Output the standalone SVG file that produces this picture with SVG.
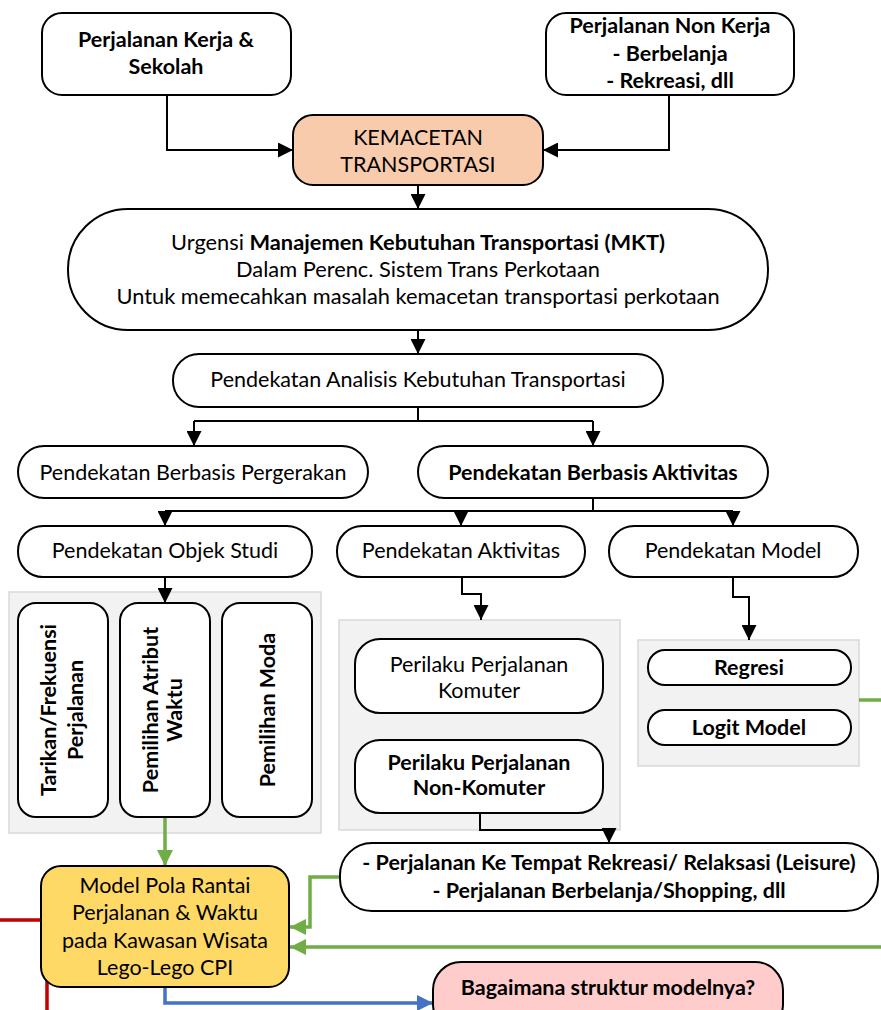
<svg xmlns="http://www.w3.org/2000/svg" width="881" height="1010" viewBox="0 0 881 1010">
<defs>
<style>
.n{fill:#fff;stroke:#000;stroke-width:2}
.t{font-family:Lato,"Liberation Sans",sans-serif;font-size:21.5px;fill:#000;text-anchor:middle}
.b{font-weight:bold}
.c{fill:none;stroke:#000;stroke-width:2}
.g{fill:none;stroke:#70AD47;stroke-width:3.5}
.bl{fill:none;stroke:#4472C4;stroke-width:3.5}
.r{fill:none;stroke:#C00000;stroke-width:3.5}
.p{fill:#F2F2F2;stroke:#D9D9D9;stroke-width:1.5}
</style>
<marker id="ak" markerUnits="userSpaceOnUse" markerWidth="15" markerHeight="15" viewBox="0 0 15 15" refX="15" refY="7.5" orient="auto"><path d="M0,0 L15,7.5 L0,15 z" fill="#000"/></marker>
<marker id="ag" markerUnits="userSpaceOnUse" markerWidth="16" markerHeight="16" viewBox="0 0 16 16" refX="16" refY="8" orient="auto"><path d="M0,0 L16,8 L0,16 z" fill="#70AD47"/></marker>
<marker id="ab" markerUnits="userSpaceOnUse" markerWidth="16" markerHeight="16" viewBox="0 0 16 16" refX="16" refY="8" orient="auto"><path d="M0,0 L16,8 L0,16 z" fill="#4472C4"/></marker>
</defs>
<rect width="881" height="1010" fill="#fff"/>

<g id="panels">
<rect class="p" x="9" y="592" width="312" height="241"/>
<rect class="p" x="339" y="620" width="281" height="210"/>
<rect class="p" x="638" y="640" width="221" height="126"/>
</g>

<g id="connectors">
<path class="c" d="M167,95 V150 H293" marker-end="url(#ak)"/>
<path class="c" d="M669,95 V150 H543" marker-end="url(#ak)"/>
<path class="c" d="M418,185 V209" marker-end="url(#ak)"/>
<path class="c" d="M418,330 V354" marker-end="url(#ak)"/>
<path class="c" d="M418,407 V421 M194,421 H593"/>
<path class="c" d="M194,421 V446" marker-end="url(#ak)"/>
<path class="c" d="M593,421 V446" marker-end="url(#ak)"/>
<path class="c" d="M593,498 V511 M165,511 H733"/>
<path class="c" d="M165,511 V526" marker-end="url(#ak)"/>
<path class="c" d="M461,511 V526" marker-end="url(#ak)"/>
<path class="c" d="M733,511 V526" marker-end="url(#ak)"/>
<path class="c" d="M165,577 V603" marker-end="url(#ak)"/>
<path class="c" d="M462,577 V594 H481 V620" marker-end="url(#ak)"/>
<path class="c" d="M733,577 V597 H749 V640" marker-end="url(#ak)"/>
<path class="c" d="M480,813 V830 H609 V843" marker-end="url(#ak)"/>
<path class="g" d="M165,817 V866" marker-end="url(#ag)"/>
<path class="g" d="M340,877 H310 V927 H290" marker-end="url(#ag)"/>
<path class="g" d="M859,700 H897 V947 H290" marker-end="url(#ag)"/>
<path class="bl" d="M165,987 V1003 H433" marker-end="url(#ab)"/>
<path class="r" d="M-3,920 H47 V1015"/>
</g>

<g id="n1"><rect class="n" x="42" y="13" width="249" height="82" rx="20"/>
<text class="t b" x="166" y="47">Perjalanan Kerja &amp;</text>
<text class="t b" x="166" y="74">Sekolah</text></g>

<g id="n2"><rect class="n" x="546" y="13" width="248" height="82" rx="20"/>
<text class="t b" x="670" y="33">Perjalanan Non Kerja</text>
<text class="t b" x="670" y="61">- Berbelanja</text>
<text class="t b" x="670" y="88">- Rekreasi, dll</text></g>

<g id="n3"><rect class="n" x="293" y="115" width="250" height="70" rx="20" style="fill:#F8CBAD"/>
<text class="t" x="418" y="145">KEMACETAN</text>
<text class="t" x="418" y="172">TRANSPORTASI</text></g>

<g id="n4"><rect class="n" x="68" y="209" width="700" height="121" rx="60"/>
<text class="t" x="418" y="250" style="font-size:21.8px">Urgensi <tspan class="b">Manajemen Kebutuhan Transportasi (MKT)</tspan></text>
<text class="t" x="418" y="277" style="font-size:21.8px">Dalam Perenc. Sistem Trans Perkotaan</text>
<text class="t" x="418" y="304" style="font-size:21.8px">Untuk memecahkan masalah kemacetan transportasi perkotaan</text></g>

<g id="n5"><rect class="n" x="173" y="354" width="490" height="53" rx="26"/>
<text class="t" x="418" y="387">Pendekatan Analisis Kebutuhan Transportasi</text></g>

<g id="n6"><rect class="n" x="18" y="446" width="350" height="52" rx="26"/>
<text class="t" x="193" y="480">Pendekatan Berbasis Pergerakan</text></g>

<g id="n7"><rect class="n" x="418" y="446" width="350" height="52" rx="26"/>
<text class="t b" x="593" y="480">Pendekatan Berbasis Aktivitas</text></g>

<g id="n8"><rect class="n" x="18" y="526" width="294" height="51" rx="25"/>
<text class="t" x="165" y="558">Pendekatan Objek Studi</text></g>

<g id="n9"><rect class="n" x="337" y="526" width="248" height="51" rx="25"/>
<text class="t" x="461" y="558">Pendekatan Aktivitas</text></g>

<g id="n10"><rect class="n" x="609" y="526" width="249" height="51" rx="25"/>
<text class="t" x="733" y="558">Pendekatan Model</text></g>

<g id="n11"><rect class="n" x="18" y="603" width="90" height="214" rx="18"/>
<g transform="translate(63,710) rotate(-90)">
<text class="t b" x="0" y="-7">Tarikan/Frekuensi</text>
<text class="t b" x="0" y="20">Perjalanan</text></g></g>

<g id="n12"><rect class="n" x="120" y="603" width="90" height="214" rx="18"/>
<g transform="translate(165,710) rotate(-90)">
<text class="t b" x="0" y="-7">Pemilihan Atribut</text>
<text class="t b" x="0" y="17">Waktu</text></g></g>

<g id="n13"><rect class="n" x="222" y="603" width="90" height="214" rx="18"/>
<g transform="translate(267,710) rotate(-90)">
<text class="t b" x="0" y="8">Pemilihan Moda</text></g></g>

<g id="n14"><rect class="n" x="355" y="639" width="248" height="74" rx="25"/>
<text class="t" x="479" y="672">Perilaku Perjalanan</text>
<text class="t" x="479" y="698">Komuter</text></g>

<g id="n15"><rect class="n" x="355" y="740" width="248" height="73" rx="25"/>
<text class="t b" x="479" y="770">Perilaku Perjalanan</text>
<text class="t b" x="479" y="795">Non-Komuter</text></g>

<g id="n16"><rect class="n" x="648" y="650" width="203" height="35" rx="17"/>
<text class="t b" x="749" y="675">Regresi</text></g>

<g id="n17"><rect class="n" x="648" y="710" width="203" height="35" rx="17"/>
<text class="t b" x="749" y="735">Logit Model</text></g>

<g id="n18"><rect class="n" x="340" y="843" width="538" height="68" rx="32"/>
<text class="t b" x="609" y="870">- Perjalanan Ke Tempat Rekreasi/ Relaksasi (Leisure)</text>
<text class="t b" x="609" y="898">- Perjalanan Berbelanja/Shopping, dll</text></g>

<g id="n19"><rect class="n" x="41" y="866" width="248" height="121" rx="20" style="fill:#FFD966"/>
<text class="t" x="165" y="893">Model Pola Rantai</text>
<text class="t" x="165" y="920">Perjalanan &amp; Waktu</text>
<text class="t" x="165" y="948">pada Kawasan Wisata</text>
<text class="t" x="165" y="975">Lego-Lego CPI</text></g>

<g id="n20"><rect class="n" x="433" y="962" width="350" height="70" rx="28" style="fill:#FFCCCC"/>
<text class="t b" x="608" y="995">Bagaimana struktur modelnya?</text></g>
</svg>
